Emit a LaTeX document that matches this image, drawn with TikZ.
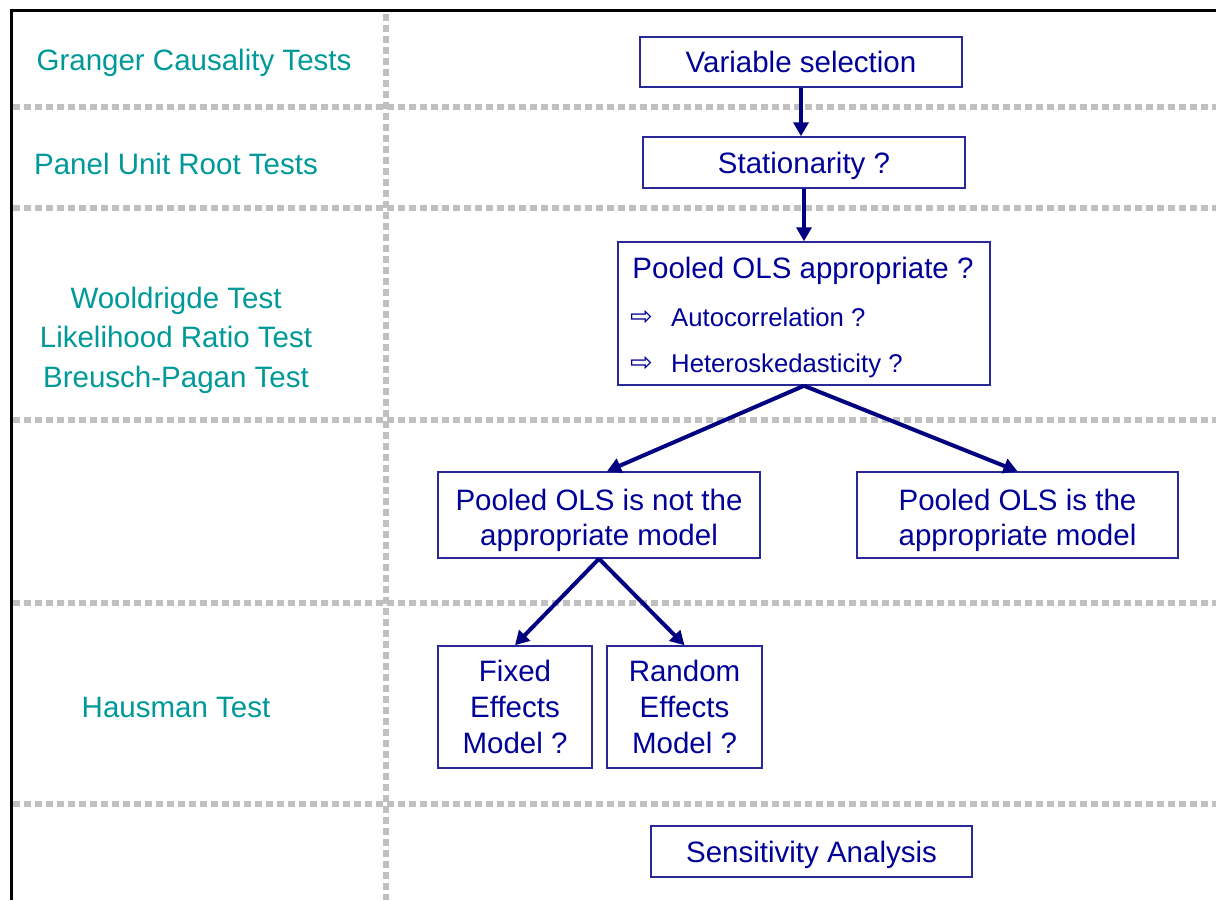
\documentclass[tikz,border=0pt]{standalone}
\usepackage{fontspec}
\setmainfont{Liberation Sans}
\newfontfamily\dejavu{DejaVu Sans}
\usetikzlibrary{arrows.meta}
\definecolor{navytext}{RGB}{0,0,153}
\definecolor{navyline}{RGB}{0,0,128}
\definecolor{boxline}{RGB}{40,40,150}
\definecolor{tealtext}{RGB}{0,153,153}
\definecolor{dotgray}{RGB}{192,192,192}
\begin{document}
\begin{tikzpicture}[x=1pt,y=-1pt,
 box/.style={draw=boxline, line width=1.5pt, inner sep=0pt, align=center, text=navytext, font=\fontsize{29.5}{36}\selectfont},
 onebox/.style={box, text height=21pt, text depth=0pt},
 twobox/.style={box, font=\fontsize{29.5}{35}\selectfont},
 lbl/.style={text=tealtext, font=\fontsize{29.5}{36}\selectfont, anchor=base, inner sep=0pt},
 boxtext/.style={text=navytext, font=\fontsize{29.5}{36}\selectfont, anchor=base, inner sep=0pt},
 sub/.style={text=navytext, font=\fontsize{25.7}{30}\selectfont, anchor=base west, inner sep=0pt},
 subarrow/.style={text=navytext, font=\dejavu\fontsize{27}{28}\selectfont, inner sep=0pt},
 conn/.style={draw=navyline, line width=4pt, -{Triangle[length=14pt,width=15pt]}},
 sep/.style={draw=dotgray, line width=6pt, dash pattern=on 7pt off 4pt}]
\useasboundingbox (0,0) rectangle (1216,900);
\fill[white] (0,0) rectangle (1216,900);
% frame
\draw[black, line width=3pt] (11,900) -- (11,10) -- (1216,10);
% separators
\foreach \yy in {107,208,420,603,804} {\draw[sep] (13,\yy) -- (1216,\yy);}
\draw[sep] (386,14) -- (386,900);
% left labels
\node[lbl] (granger) at (194,70) {Granger Causality Tests};
\node[lbl] (panel) at (176,174) {Panel Unit Root Tests};
\node[lbl] (wool) at (176,308) {Wooldrigde Test};
\node[lbl] (lik) at (176,347) {Likelihood Ratio Test};
\node[lbl] (breu) at (176,387) {Breusch-Pagan Test};
\node[lbl] (haus) at (176,717) {Hausman Test};
% boxes
\node[onebox, minimum width=322pt, minimum height=50pt] (var) at (801,62) {Variable selection};
\node[onebox, minimum width=322pt, minimum height=51pt] (stat) at (804,162.5) {Stationarity ?};
\node[box, minimum width=372pt, minimum height=143pt] (pooled) at (804,313.5) {};
\node[boxtext] (pooledT) at (803,278) {Pooled OLS appropriate ?};
\node[subarrow] (a1) at (641.5,317.5) {⇨};
\node[sub] (auto) at (671,326) {Autocorrelation ?};
\node[subarrow] (a2) at (641.5,364) {⇨};
\node[sub] (het) at (671,372) {Heteroskedasticity ?};
\node[twobox, minimum width=322pt, minimum height=86pt] (notm) at (599,515) {\rule{0pt}{26.4pt}Pooled OLS is not the\\\smash{appropriate model}};
\node[twobox, minimum width=321pt, minimum height=86pt] (ism) at (1017.5,515) {\rule{0pt}{26.4pt}Pooled OLS is the\\\smash{appropriate model}};
\node[box, minimum width=154pt, minimum height=122pt] (fixed) at (515,707) {Fixed\\Effects\\Model ?};
\node[box, minimum width=155pt, minimum height=122pt] (random) at (684.5,707) {Random\\Effects\\Model ?};
\node[onebox, minimum width=321pt, minimum height=51pt] (sens) at (811.5,851.5) {Sensitivity Analysis};
% connectors
\draw[conn] (var.south) -- (var.south |- stat.north);
\draw[conn] (stat.south) -- (pooled.north);
\draw[conn] (pooled.south) -- ([xshift=8pt]notm.north);
\draw[conn] (pooled.south) -- (ism.north);
\draw[conn] (notm.south) -- (fixed.north);
\draw[conn] (notm.south) -- (random.north);
\end{tikzpicture}
\end{document}
